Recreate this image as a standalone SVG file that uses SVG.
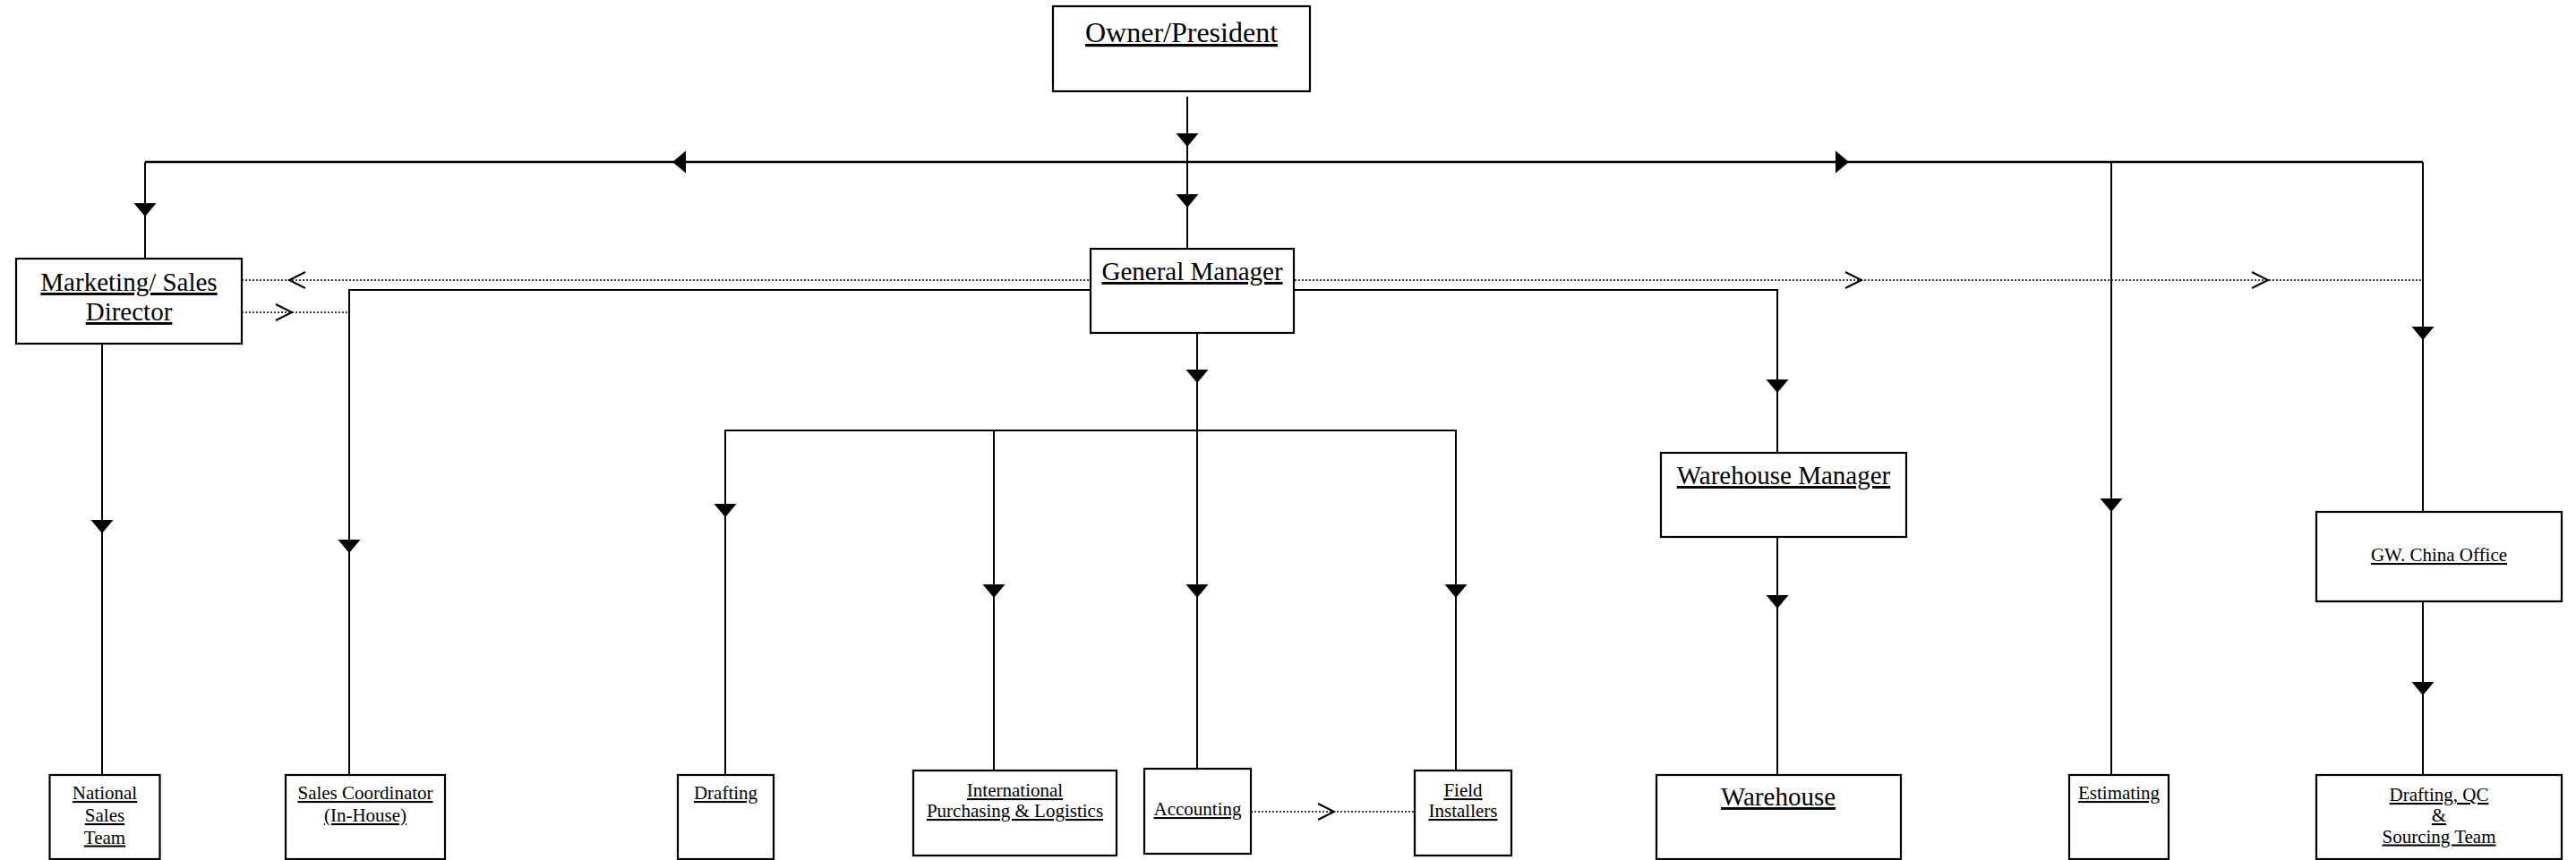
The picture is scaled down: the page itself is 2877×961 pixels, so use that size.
<svg xmlns="http://www.w3.org/2000/svg" xmlns:xlink="http://www.w3.org/1999/xlink" width="2877" height="961" viewBox="0 0 2877 961">
<style>
.box{fill:#fff;stroke:#000;stroke-width:2.2}
.ln{fill:none;stroke:#000;stroke-width:2}
.dot{fill:none;stroke:#000;stroke-width:1.6;stroke-dasharray:2 2}
.oa{fill:none;stroke:#000;stroke-width:2}
text{font-family:"Liberation Serif","Times New Roman",serif;fill:#000;text-anchor:middle;text-decoration:underline}
.big{font-size:32px}
.mid{font-size:29px}
.sm{font-size:21px}
</style>
<defs>
<path id="ad" d="M-12.5,-15 L12.5,-15 L0,0 Z" fill="#000"/>
<path id="oar" d="M-18,-9 L0,0 L-18,9" class="oa"/>
</defs>
<rect width="2877" height="961" fill="#fff"/>
<g id="connectors">
<line class="ln" x1="1326" y1="108" x2="1326" y2="181"/>
<use xlink:href="#ad" x="1326" y="164"/>
<line class="ln" x1="162" y1="181" x2="2706" y2="181" style="stroke-width:2.5"/>
<use xlink:href="#ad" transform="translate(751,181) rotate(90)"/>
<use xlink:href="#ad" transform="translate(2065,181) rotate(-90)"/>
<line class="ln" x1="1326" y1="181" x2="1326" y2="278"/>
<use xlink:href="#ad" x="1326" y="232"/>
<line class="ln" x1="162" y1="181" x2="162" y2="289"/>
<use xlink:href="#ad" x="162" y="242"/>
<line class="ln" x1="2358" y1="181" x2="2358" y2="866"/>
<use xlink:href="#ad" x="2358" y="572"/>
<line class="ln" x1="2706" y1="181" x2="2706" y2="572"/>
<use xlink:href="#ad" x="2706" y="380"/>
<line class="dot" x1="270" y1="313" x2="2706" y2="313"/>
<use xlink:href="#oar" transform="translate(323,313) rotate(180)"/>
<use xlink:href="#oar" x="2079" y="313"/>
<use xlink:href="#oar" x="2533" y="313"/>
<line class="dot" x1="270" y1="349" x2="390" y2="349"/>
<use xlink:href="#oar" x="326" y="349"/>
<polyline class="ln" points="390,866 390,324 1985,324 1985,506"/>
<use xlink:href="#ad" x="390" y="618"/>
<use xlink:href="#ad" x="1985" y="439"/>
<line class="ln" x1="114" y1="384" x2="114" y2="866"/>
<use xlink:href="#ad" x="114" y="596"/>
<line class="ln" x1="1337" y1="372" x2="1337" y2="481"/>
<use xlink:href="#ad" x="1337" y="428"/>
<polyline class="ln" points="810,866 810,481 1626,481 1626,861"/>
<use xlink:href="#ad" x="810" y="578"/>
<line class="ln" x1="1110" y1="481" x2="1110" y2="861"/>
<use xlink:href="#ad" x="1110" y="668"/>
<line class="ln" x1="1337" y1="481" x2="1337" y2="859"/>
<use xlink:href="#ad" x="1337" y="668"/>
<use xlink:href="#ad" x="1626" y="668"/>
<line class="ln" x1="1985" y1="600" x2="1985" y2="866"/>
<use xlink:href="#ad" x="1985" y="680"/>
<line class="ln" x1="2706" y1="672" x2="2706" y2="866"/>
<use xlink:href="#ad" x="2706" y="777"/>
<line class="dot" x1="1397" y1="907" x2="1580" y2="907"/>
<use xlink:href="#oar" x="1490" y="907"/>
</g>
<g id="owner"><rect class="box" x="1176" y="7" width="287" height="95"/><text class="big" x="1319.5" y="47">Owner/President</text></g>
<g id="gm"><rect class="box" x="1218" y="278" width="227" height="94"/><text class="mid" x="1331.5" y="313">General Manager</text></g>
<g id="marketing"><rect class="box" x="18" y="289" width="252" height="95"/><text class="mid" x="144" y="325">Marketing/ Sales</text><text class="mid" x="144" y="358">Director</text></g>
<g id="national"><rect class="box" x="55.5" y="866" width="123" height="94"/><text class="sm" x="117" y="893">National</text><text class="sm" x="117" y="918">Sales</text><text class="sm" x="117" y="942.5">Team</text></g>
<g id="salescoord"><rect class="box" x="319" y="866" width="178" height="94"/><text class="sm" x="408" y="893">Sales Coordinator</text><text class="sm" x="408" y="918">(In-House)</text></g>
<g id="drafting"><rect class="box" x="757" y="866" width="107" height="94"/><text class="sm" x="810.5" y="893">Drafting</text></g>
<g id="intl"><rect class="box" x="1020" y="861" width="227" height="95"/><text class="sm" x="1133.5" y="890">International</text><text class="sm" x="1133.5" y="913">Purchasing &amp; Logistics</text></g>
<g id="accounting"><rect class="box" x="1278" y="859" width="119" height="95"/><text class="sm" x="1337.5" y="911">Accounting</text></g>
<g id="field"><rect class="box" x="1580" y="861" width="108" height="95"/><text class="sm" x="1634" y="890">Field</text><text class="sm" x="1634" y="913">Installers</text></g>
<g id="whmanager"><rect class="box" x="1855" y="506" width="274" height="94"/><text class="mid" x="1992" y="541">Warehouse Manager</text></g>
<g id="warehouse"><rect class="box" x="1850" y="866" width="273" height="94"/><text class="mid" x="1986" y="900">Warehouse</text></g>
<g id="estimating"><rect class="box" x="2311" y="866" width="111" height="94"/><text class="sm" x="2366.5" y="893">Estimating</text></g>
<g id="gwchina"><rect class="box" x="2587" y="572" width="274" height="100"/><text class="sm" x="2724" y="627">GW. China Office</text></g>
<g id="draftingqc"><rect class="box" x="2587" y="866" width="274" height="94"/><text class="sm" x="2724" y="895">Drafting, QC</text><text class="sm" x="2724" y="918">&amp;</text><text class="sm" x="2724" y="941.5">Sourcing Team</text></g>
</svg>
